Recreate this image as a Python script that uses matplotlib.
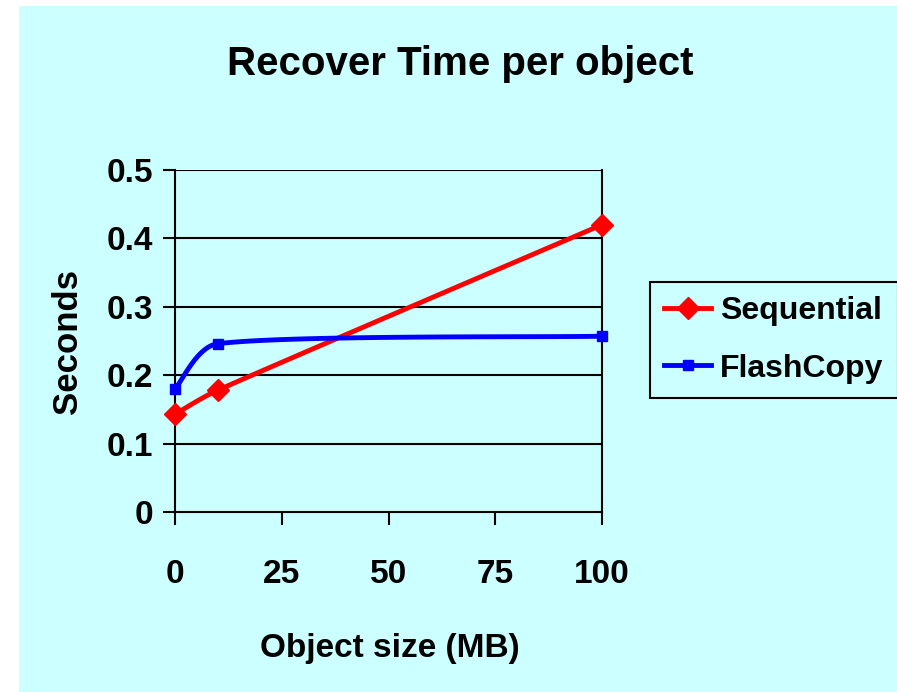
import numpy as np
import matplotlib.pyplot as plt
from matplotlib.patches import Rectangle

# data
sizes = [0, 10, 100]
sequential = [0.143, 0.178, 0.42]
flashcopy = [0.18, 0.246, 0.257]
yticks = [0, 0.1, 0.2, 0.3, 0.4, 0.5]
xticks = [0, 25, 50, 75, 100]

bg = '#CCFFFF'
plt.rcParams['font.family'] = ['Liberation Sans', 'DejaVu Sans']
plt.rcParams['font.weight'] = 'bold'

fig = plt.figure(figsize=(8.97, 6.92), dpi=100, facecolor='white')
fig.patches.append(Rectangle((19/897, 0), 1 - 19/897, 1 - 6/692, transform=fig.transFigure,
                             facecolor=bg, edgecolor='none', zorder=-10))
ax = fig.add_axes([175/897, 1 - 512/692, 427/897, 342/692])
ax.set_facecolor(bg)
ax.set_xlim(0, 100)
ax.set_ylim(0, 0.5)


def smooth(xs, ys, n=60):
    # excel-like bezier smoothing in pixel space, control arms clamped
    sx, sy = 427 / 100, 342 / 0.5
    p = np.column_stack([np.array(xs) * sx, np.array(ys) * sy])
    pts = np.vstack([p[0], p, p[-1]])
    out = []
    t = np.linspace(0, 1, n)[:, None]
    for i in range(1, len(pts) - 2):
        p0, p1 = pts[i], pts[i + 1]
        L = np.hypot(*(p1 - p0)) / 3
        d1 = (pts[i + 1] - pts[i - 1]) / 6
        d2 = (pts[i + 2] - pts[i]) / 6
        d1 = d1 * min(1, L / max(np.hypot(*d1), 1e-9))
        d2 = d2 * min(1, L / max(np.hypot(*d2), 1e-9))
        c1, c2 = p0 + d1, p1 - d2
        seg = (1 - t)**3 * p0 + 3 * (1 - t)**2 * t * c1 + 3 * (1 - t) * t**2 * c2 + t**3 * p1
        out.append(seg)
    out = np.vstack(out)
    return out[:, 0] / sx, out[:, 1] / sy


for yv in yticks[1:]:
    ax.axhline(yv, color='black', lw=1.5, zorder=1)

sx1, sy1 = smooth(sizes, sequential)
sx2, sy2 = smooth(sizes, flashcopy)
ax.plot(sx1, sy1, color='#FF0000', lw=3.5, zorder=3, clip_on=False)
ax.plot(sx2, sy2, color='#0000FF', lw=3.5, zorder=3, clip_on=False)
ax.plot(sizes, sequential, ls='none', marker='D', ms=11, color='#FF0000', zorder=4, clip_on=False)
ax.plot(sizes, flashcopy, ls='none', marker='s', ms=6.5, color='#0000FF', zorder=4, clip_on=False)

ax.plot([], [], color='#FF0000', lw=3.5, marker='D', ms=11, label='Sequential')
ax.plot([], [], color='#0000FF', lw=3.5, marker='s', ms=6.5, label='FlashCopy')

for s in ['left', 'bottom', 'right']:
    ax.spines[s].set_linewidth(1.5)
ax.spines['top'].set_visible(False)

ax.set_xticks(xticks)
ax.set_yticks(yticks)
ax.set_yticklabels(['0', '0.1', '0.2', '0.3', '0.4', '0.5'])
ax.tick_params(axis='both', direction='out', length=9, width=1.5, labelsize=24)
ax.tick_params(axis='x', pad=25)
ax.tick_params(axis='y', pad=7)

fig.text(460/897, 1 - 64/692, 'Recover Time per object', fontsize=29, fontweight='bold',
         ha='center', va='center')
ax.set_xlabel('Object size (MB)', fontsize=24, fontweight='bold')
ax.xaxis.set_label_coords((390 - 175) / 427, (512 - 633) / 342)
ax.set_ylabel('Seconds', fontsize=25, fontweight='bold')
ax.yaxis.set_label_coords((84 - 175) / 427, (512 - 342) / 342)

leg = ax.legend(loc='center left', bbox_to_anchor=(650/897, 1 - 340/692), bbox_transform=fig.transFigure,
                fontsize=23, frameon=True, fancybox=False, facecolor=bg, edgecolor='black',
                handlelength=1.45, borderpad=0.45, labelspacing=0.85, handletextpad=0.3,
                borderaxespad=0)
leg.get_frame().set_linewidth(1.5)
leg.get_frame().set_alpha(1)

fig.savefig('out.png', dpi=100, facecolor=fig.get_facecolor())
